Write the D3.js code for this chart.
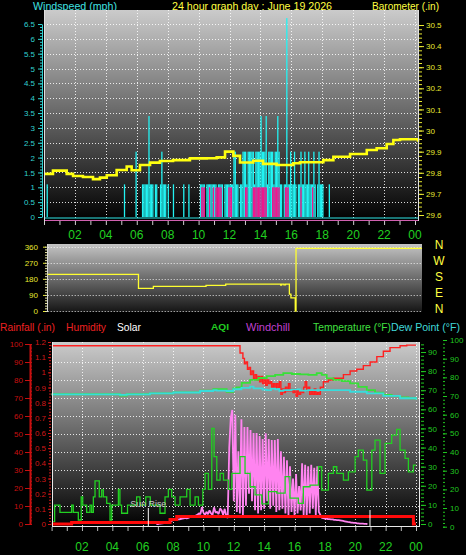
<!DOCTYPE html>
<html><head><meta charset="utf-8">
<script src="https://cdn.jsdelivr.net/npm/d3@7"></script>
<style>html,body{margin:0;padding:0;background:#000;overflow:hidden}</style>
</head><body>
<script>
// ---------------- DATA ----------------
const hourLabels = ["02","04","06","08","10","12","14","16","18","20","22","00"];
const windTicks = [0,0.5,1,1.5,2,2.5,3,3.5,4,4.5,5,5.5,6,6.5];
const baroTicks = [29.6,29.7,29.8,29.9,30.0,30.1,30.2,30.3,30.4,30.5];
const dirTicks = [0,90,180,270,360];
const compass = ["N","E","S","W","N"];
const rainTicks = [0,0.1,0.2,0.3,0.4,0.5,0.6,0.7,0.8,0.9,1,1.1,1.2];
const humTicks = [0,10,20,30,40,50,60,70,80,90,100];
const tempTicks = [0,10,20,30,40,50,60,70,80,90];
const aqiTicks = [0,10,20,30,40,50,60,70,80,90,100];

const baroHours = [0,0.17,0.58,1.04,1.47,1.88,2.52,3.17,3.62,4.06,4.70,5.35,5.67,6.21,6.86,7.50,8.35,9.44,10.53,11.17,11.71,12.25,12.68,13.11,13.54,13.97,14.17,14.62,15.05,15.91,16.13,16.56,17.85,18.07,18.72,19.8,20.88,21.52,22.17,22.6,23.03,23.89,24.2];
const baroValues = [29.795,29.795,29.81,29.81,29.795,29.785,29.78,29.77,29.777,29.788,29.813,29.83,29.812,29.837,29.848,29.856,29.86,29.868,29.869,29.873,29.9,29.88,29.849,29.849,29.857,29.857,29.842,29.842,29.837,29.837,29.845,29.85,29.85,29.86,29.876,29.889,29.908,29.916,29.936,29.955,29.959,29.959,29.947];

// wind speed (mph), 5-minute samples, one row per hour
const windByHour = [
 [0,0,1.1,0,0,0,0,0,0,0,0,0],
 [0,0,0,0,0,0,0,0,0,0,0,0],
 [0,0,0,0,0,0,0,0,0,0,0,0],
 [0,0,0,0,0,0,0,0,0,0,0,0],
 [0,0,0,0,0,0,0,0,0,0,0,0],
 [0,0,1.1,0,0,0,0,0,0,0,0,2.2],
 [0,0,0,0,1.1,1.1,1.1,1.1,1.1,3.4,1.1,1.1],
 [1.1,0,1.1,1.1,0,0,1.1,2.2,1.1,1.1,1.1,0],
 [1.1,0,0,0,1.1,0,0,0,0,0,0,0],
 [1.1,0,0,0,1.1,0,0,0,0,0,0,0],
 [0,1.1,1.1,1.1,1.1,0,1.1,1.1,1.1,1.1,1.1,1.1],
 [1.1,1.1,0,1.1,1.1,1.1,1.1,0,1.1,1.1,1.1,1.1],
 [1.1,1.1,1.1,2.2,2.2,1.1,1.1,0,1.1,1.1,2.2,2.2],
 [2.2,1.1,2.2,2.2,2.2,2.2,2.2,1.1,2.2,2.2,2.2,2.2],
 [3.4,2.2,2.2,2.2,3.4,1.1,2.2,2.2,2.2,2.2,1.1,2.2],
 [2.2,3.4,2.2,1.1,1.1,0,1.1,1.1,6.7,1.1,1.1,2.2],
 [1.1,1.1,2.2,1.1,0,1.1,1.1,2.2,1.1,1.1,2.2,1.1],
 [1.1,2.2,1.1,1.1,1.1,2.2,1.1,0,1.1,2.2,1.1,1.1],
 [1.1,0,0,0,0,1.1,0,0,0,0,0,0],
 [0,0,0,0,0,0,0,0,0,0,0,0],
 [0,0,0,0,0,0,0,0,0,0,0,0],
 [0,0,0,0,0,0,0,0,0,0,0,0],
 [0,0,0,0,0,0,0,0,0,0,0,0],
 [0,0,0,0,0,0,0,0,0,0,0,0]
];
// average wind (mph), 5-minute samples, hours 10..17
const avgStartHour = 10;
const avgByHour = [
 [0,0,1,1,1,0,0,0,1,0,0,1],
 [0,1,1,1,1,1,0,0,0,0,0,1],
 [1,1,0,0,0,0,0,0,0,0,0,0],
 [1,1,0,0,0,0,1,1,1,1,1,1],
 [1,1,1,1,1,0,0,0,0,1,1,1],
 [1,1,1,0,0,0,0,1,1,1,0,0],
 [0,0,0,0,0,0,0,1,0,0,0,0],
 [0,0,0,0,1,0,0,0,0,0,0,0]
];

const dirHours = [0,5.86,6.82,10.22,11.49,15.04,15.1,15.25,15.35,15.6,15.7,15.98,16.03,24.15];
const dirValues = [205,127,138,144,150,145,150,146,150,95,74,0,351,351];

const rainHours = [0,1.32,7.8,8.24,23.83,24];
const rainValues = [0,0.01,0.03,0.05,0,0];

const humHours = [0,12.08,12.41,12.6,12.7,12.8,12.9,13.0,13.1,13.2,13.3,13.4,13.5,13.6,13.7,13.8,13.9,14.0,14.1,14.2,14.3,14.4,14.5,14.6,14.7,14.8,14.9,15.0,15.1,15.2,15.3,15.4,15.5,15.6,15.7,15.8,15.9,16.0,16.1,16.2,16.3,16.4,16.5,16.6,16.7,16.8,16.9,17.0,17.1,17.2,17.3,17.4,17.5,17.6,17.7,17.9,18.01,18.23,18.56,19.22,19.66,20.1,20.53,20.98,21.42,21.85,22.29,22.95,23.39,24];
const humValues = [99,99,95,92,89,90,86,87,83,85,81,83,80,82,79,82,78,80,77,80,78,79,76,78,75,78,76,79,72,75,73,76,74,78,74,75,73,75,71,74,72,74,73,76,79,74,76,72,74,72,75,72,73,72,76,79,79,80,81,83,85,86,88,90,93,96,98,99,99.4,99.4];

const tempHours = [0,4.29,4.5,4.95,6.48,8.02,9.78,10.65,11.1,11.53,11.97,12.19,12.52,13.07,13.62,14.17,14.72,15.26,15.82,16.36,16.91,17.46,17.79,18.12,18.56,19.11,19.66,20.2,20.76,21.3,21.85,22.4,22.95,23.5,24];
const tempValues = [67.9,67.9,67.2,67.9,68.4,68.9,69.8,70.5,70.5,69.2,71,71.5,73.8,75.4,76.4,77.4,78,78.9,78.5,78.3,78,78.9,78,76.2,75.4,74.8,73.6,71.8,70.1,68.7,67.5,67,66.3,65.8,65.2];

const dewHours = [0,4.29,4.5,4.95,6.48,8.02,9.78,10.65,10.87,11.53,11.97,12.5,13.07,13.3,13.62,13.9,14.17,14.45,14.72,15.0,15.26,15.8,16.36,16.9,17.46,18.56,19.66,20.76,21.85,22.95,24];
const dewValues = [67.8,67.8,67.6,67.8,68.3,68.8,69.6,70.0,69.8,69.6,70.5,71.2,71.9,71.0,71.0,70.3,70.1,70.8,70.5,69.7,70.1,70.4,69.8,70.1,70.1,70.1,69.2,68.4,67,65.8,65.2];

const aqiHours = [0.11,0.2,0.55,1.32,1.43,1.76,1.95,2.05,2.31,2.53,2.64,2.75,2.86,3.14,3.3,3.41,3.63,3.85,3.96,4.4,4.5,4.61,5.0,5.6,5.82,6.2,6.5,7.14,7.47,7.69,7.91,8.13,8.46,8.9,9.12,9.45,9.67,9.96,10.11,10.33,10.55,10.7,10.88,11.1,11.32,11.65,11.87,12.41,12.74,13.07,13.4,13.84,14.28,14.83,15.38,15.7,16.25,16.58,17.02,17.57,17.79,18.23,18.56,18.78,19.22,19.55,19.99,20.2,20.53,20.76,21.09,21.3,21.63,21.96,22.4,22.73,22.95,23.28,23.5,23.83,24];
const aqiValues = [2.7,11.6,7.7,11.6,7.7,3.6,16,11.6,7.7,11.6,7.7,16,24.5,16,19.7,16,12.5,3.6,11.6,20,11.6,7.2,11.6,16,11.6,16,11.6,7.2,16,20,16,11.6,16,20,11.6,16,11.6,20,28.6,20,52.7,37.5,25,28.6,25,20,28.6,37.5,28.6,21.4,17,12.2,18.8,18,26.8,15.3,12.5,21.4,22.3,32.1,19.6,28.6,32.1,28.6,25,29.4,37.5,41,35.7,19.6,41,46.4,28.6,44.6,49.1,52.1,41,36.6,29.4,33,33];

// solar (W/m2), 6-minute samples from 06:54
const solarStartHour = 6.9, solarStepHour = 0.1;
const solarValues = [0,0,2,3,5,6,8,9,12,15,20,26,26,28,30,31,33,35,37,40,37,40,45,48,46,50,55,60,70,65,110,75,59,80,65,90,70,60,110,75,80,65,103,90,60,100,55,40,500,700,752,150,720,80,480,70,690,60,640,120,640,200,620,150,600,90,600,70,580,90,560,100,598,150,560,100,554,120,554,80,560,90,480,100,444,70,420,60,380,80,300,60,330,70,250,90,400,60,390,50,380,70,390,100,370,60,380,80,60,40,38,36,35,33,32,30,30,28,27,26,26,24,22,20,18,16,14,12,10,9,8,7,5,4,3,2,2,1,1,0];
const sunriseHour = 6.37, sunsetHour = 20.97;

// ---------------- DRAW ----------------
const FONT = "'Liberation Sans', Arial, Helvetica, sans-serif";
const svg = d3.select("body").append("svg").attr("width",466).attr("height",555).style("display","block").style("background","#000");
const defs = svg.append("defs");
function grad(id,c0,c1){const g=defs.append("linearGradient").attr("id",id).attr("x1",0).attr("y1",0).attr("x2",0).attr("y2",1);
 g.append("stop").attr("offset","0%").attr("stop-color",c0);g.append("stop").attr("offset","100%").attr("stop-color",c1);}
grad("gTop","#cbcbcb","#000000");
grad("gMid","#c4c4c4","#151515");
grad("gBot","#cbcbcb","#000000");

function txt(x,y,s,fill,size,anchor,weight,len){const t=svg.append("text").attr("x",x).attr("y",y).text(s).attr("fill",fill)
 .attr("font-size",size).attr("font-family",FONT).attr("text-anchor",anchor||"start").attr("font-weight",weight||"normal");
 if(len) t.attr("textLength",len).attr("lengthAdjust","spacingAndGlyphs"); return t;}
function styleAxis(g,color,fs,keepDomain){ if(!keepDomain) g.select(".domain").remove(); else g.select(".domain").attr("stroke",color);
 g.selectAll("line").attr("stroke",color); g.selectAll("text").attr("fill",color).attr("font-size",fs).attr("font-family",FONT);}
function hgrid(scale,vals,x0,x1){vals.forEach(v=>{const y=Math.round(scale(v))+0.5;
 svg.append("line").attr("x1",x0).attr("x2",x1).attr("y1",y).attr("y2",y).attr("stroke","#fff").attr("stroke-dasharray","1,2").attr("stroke-opacity",0.85);});}
function vgrid(scale,vals,y0,y1){vals.forEach(v=>{const x=Math.round(scale(v))+0.5;
 svg.append("line").attr("x1",x).attr("x2",x).attr("y1",y0).attr("y2",y1).attr("stroke","#fff").attr("stroke-dasharray","1,2").attr("stroke-opacity",0.85);});}
const evenHours = d3.range(2,25,2);
const allHours = d3.range(0,25,1);

// header
txt(33,9.5,"Windspeed (mph)","#40e0e0",11,"start","normal",84);
txt(172,9.5,"24 hour graph day : June 19 2026","#ffff40",11,"start","normal",160);
txt(372,9.5,"Barometer (.in)","#ffff40",11,"start","normal",67);

// ---- TOP PANEL ----
const xTop = d3.scaleLinear().domain([0,24]).range([44,415]);
const yWind = d3.scaleLinear().domain([0,6.5]).range([217,24]);
const yBaro = d3.scaleLinear().domain([29.6,30.5]).range([215,25]);
svg.append("rect").attr("x",44).attr("y",10).attr("width",375).attr("height",211).attr("fill","url(#gTop)");
hgrid(yWind,windTicks.slice(1),44,419);
vgrid(xTop,evenHours,10,221);

const wind = windByHour.flat();
svg.append("g").selectAll("rect").data(wind.map((v,i)=>({v,i})).filter(d=>d.v>0)).join("rect")
 .attr("x",d=>xTop(d.i/12)).attr("width",d=>xTop((d.i+1)/12)-xTop(d.i/12))
 .attr("y",d=>yWind(d.v)).attr("height",d=>yWind(0)-yWind(d.v)).attr("fill","#22f2f2");
const avg = avgByHour.flat();
svg.append("g").selectAll("rect").data(avg.map((v,i)=>({v,i:i+avgStartHour*12})).filter(d=>d.v>0)).join("rect")
 .attr("x",d=>xTop(d.i/12)).attr("width",d=>xTop((d.i+1)/12)-xTop(d.i/12))
 .attr("y",d=>yWind(d.v)).attr("height",d=>yWind(0)-yWind(d.v)).attr("fill","#f0168e");
svg.append("line").attr("x1",44).attr("x2",419).attr("y1",yWind(0)+1).attr("y2",yWind(0)+1).attr("stroke","#30e8e8").attr("stroke-width",1);
svg.append("line").attr("x1",44).attr("x2",419).attr("y1",220.5).attr("y2",220.5).attr("stroke","#d060b0").attr("stroke-width",1);

svg.append("path").datum(baroHours.map((h,i)=>[h,baroValues[i]]))
 .attr("d",d3.line().x(d=>xTop(d[0])).y(d=>yBaro(d[1])).curve(d3.curveStepAfter))
 .attr("fill","none").attr("stroke","#ffff10").attr("stroke-width",2.6);

// frame
svg.append("line").attr("x1",44.5).attr("x2",44.5).attr("y1",10).attr("y2",221).attr("stroke","#e0e0e0");
svg.append("line").attr("x1",418.5).attr("x2",418.5).attr("y1",10).attr("y2",221).attr("stroke","#e0e0e0");

// axes
let g = svg.append("g").attr("transform","translate(42,0)").call(d3.axisLeft(yWind).tickValues(windTicks).tickSize(4).tickSizeOuter(0).tickPadding(3).tickFormat(d=>String(d)));
styleAxis(g,"#30d0d0",8,true);
g = svg.append("g").attr("transform","translate(42,0)").call(d3.axisLeft(yWind).tickValues(d3.range(0,66,1).map(d=>d/10)).tickSize(2).tickFormat(""));
styleAxis(g,"#30d0d0",8);
g = svg.append("g").attr("transform","translate(419,0)").call(d3.axisRight(yBaro).tickValues(baroTicks).tickSize(5).tickPadding(2).tickFormat(d=>String(+d.toFixed(1))));
styleAxis(g,"#e8e830",8);
g = svg.append("g").attr("transform","translate(419,0)").call(d3.axisRight(yBaro).tickValues(d3.range(0,46,1).map(d=>29.6+d*0.02)).tickSize(3).tickFormat(""));
styleAxis(g,"#e8e830",8);
g = svg.append("g").attr("transform","translate(0,221)").call(d3.axisBottom(xTop).tickValues(allHours).tickSize(4).tickFormat(""));
styleAxis(g,"#cccccc",8);
hourLabels.forEach((s,i)=>txt(xTop(evenHours[i]),239,s,"#20d020",12,"middle"));

// ---- MIDDLE PANEL ----
const xMid = d3.scaleLinear().domain([0,24]).range([47.7,419.5]);
const yDir = d3.scaleLinear().domain([0,360]).range([311,246.7]);
svg.append("rect").attr("x",47.7).attr("y",244).attr("width",374.3).attr("height",68).attr("fill","url(#gMid)");
hgrid(yDir,dirTicks,47.7,422);
svg.append("line").attr("x1",47.5).attr("x2",47.5).attr("y1",244).attr("y2",312).attr("stroke","#d8d8d8");
svg.append("path").datum(dirHours.map((h,i)=>[h,dirValues[i]]))
 .attr("d",d3.line().x(d=>xMid(d[0])).y(d=>yDir(d[1])).curve(d3.curveStepAfter))
 .attr("fill","none").attr("stroke","#ffff30").attr("stroke-width",1.3);
g = svg.append("g").attr("transform","translate(46,0)").call(d3.axisLeft(yDir).tickValues(dirTicks).tickSize(3).tickPadding(5).tickFormat(d=>String(d)));
styleAxis(g,"#e8e830",8);
g = svg.append("g").attr("transform","translate(47,0)").call(d3.axisLeft(yDir).tickValues(d3.range(0,361,15)).tickSize(2).tickFormat(""));
styleAxis(g,"#e8e8a0",8);
dirTicks.forEach((v,i)=>txt(439,yDir(v)+2,compass[i],"#ffff40",12,"middle"));

// ---- LEGEND ----
txt(0,331,"Rainfall (.in)","#ee2020",11,"start","normal",55);
txt(66,331,"Humidity","#ee2020",11,"start","normal",40);
txt(117,331,"Solar","#ffffff",11,"start","normal",24);
txt(211,330,"AQI","#20cc20",9,"start","bold",18);
txt(246,331,"Windchill","#c040d0",11,"start","normal",44);
txt(313,331,"Temperature (°F)","#40e040",11,"start","normal",78);
txt(391,331,"Dew Point (°F)","#40d8d8",11,"start","normal",69);

// ---- BOTTOM PANEL ----
const xBot = d3.scaleLinear().domain([0,24]).range([51.6,416]);
const yRain = d3.scaleLinear().domain([0,1.2]).range([524,342]);
const yHum = d3.scaleLinear().domain([0,100]).range([524,344]);
const yTemp = d3.scaleLinear().domain([0,90]).range([524,352]);
const yAqi = d3.scaleLinear().domain([0,100]).range([526.7,340]);
const ySolar = d3.scaleLinear().domain([0,1200]).range([524,342]);
svg.append("rect").attr("x",52).attr("y",342).attr("width",368).attr("height",185).attr("fill","url(#gBot)");
hgrid(yHum,d3.range(10,100,10),52,420);
vgrid(xBot,evenHours,342,527);

// solar
svg.append("path").datum(solarValues.map((v,i)=>[solarStartHour+i*solarStepHour,v]))
 .attr("d",d3.line().x(d=>xBot(d[0])).y(d=>ySolar(d[1])))
 .attr("fill","none").attr("stroke","#ff84f0").attr("stroke-width",1.8).attr("stroke-linejoin","bevel");
// AQI
svg.append("path").datum(aqiHours.map((h,i)=>[h,aqiValues[i]]))
 .attr("d",d3.line().x(d=>xBot(d[0])).y(d=>yAqi(d[1])).curve(d3.curveStepAfter))
 .attr("fill","none").attr("stroke","#22d022").attr("stroke-width",1.3);
// rain
svg.append("path").datum(rainHours.map((h,i)=>[h,rainValues[i]]))
 .attr("d",d3.line().x(d=>xBot(d[0])).y(d=>yRain(d[1])).curve(d3.curveStepAfter))
 .attr("fill","none").attr("stroke","#ff0a0a").attr("stroke-width",3);
// humidity
svg.append("path").datum(humHours.map((h,i)=>[h,humValues[i]]))
 .attr("d",d3.line().x(d=>xBot(d[0])).y(d=>yHum(d[1])).curve(d3.curveStepAfter))
 .attr("fill","none").attr("stroke","#ff2020").attr("stroke-width",1.4);
// temperature
svg.append("path").datum(tempHours.map((h,i)=>[h,tempValues[i]]))
 .attr("d",d3.line().x(d=>xBot(d[0])).y(d=>yTemp(d[1])).curve(d3.curveStepAfter))
 .attr("fill","none").attr("stroke","#38e038").attr("stroke-width",1.8);
// dew point
svg.append("path").datum(dewHours.map((h,i)=>[h,dewValues[i]]))
 .attr("d",d3.line().x(d=>xBot(d[0])).y(d=>yTemp(d[1])).curve(d3.curveStepAfter))
 .attr("fill","none").attr("stroke","#38dcdc").attr("stroke-width",1.8);
// sunrise / sunset
svg.append("line").attr("x1",xBot(sunriseHour)).attr("x2",xBot(sunriseHour)).attr("y1",508).attr("y2",527).attr("stroke","#fff");
svg.append("line").attr("x1",xBot(sunsetHour)).attr("x2",xBot(sunsetHour)).attr("y1",510).attr("y2",527).attr("stroke","#fff");
txt(xBot(sunriseHour)-18,507,"Sun Rise","#c8c8c8",9,"start","normal",36);

// frame
svg.append("line").attr("x1",52.5).attr("x2",52.5).attr("y1",342).attr("y2",527).attr("stroke","#e8e8e8");
svg.append("line").attr("x1",419.5).attr("x2",419.5).attr("y1",342).attr("y2",527).attr("stroke","#e8e8e8");
svg.append("line").attr("x1",52).attr("x2",420).attr("y1",526.5).attr("y2",526.5).attr("stroke","#e8e8e8");

// left axes
g = svg.append("g").attr("transform","translate(51,0)").call(d3.axisLeft(yRain).tickValues(rainTicks).tickSize(3).tickPadding(2).tickFormat(d=>String(d)));
styleAxis(g,"#d01818",8);
g = svg.append("g").attr("transform","translate(51,0)").call(d3.axisLeft(yRain).tickValues(d3.range(0,61,1).map(d=>d*0.02)).tickSize(2).tickFormat(""));
styleAxis(g,"#d01818",8);
g = svg.append("g").attr("transform","translate(30,0)").call(d3.axisLeft(yHum).tickValues(humTicks).tickSize(5).tickSizeOuter(0).tickPadding(2).tickFormat(d=>String(d)));
styleAxis(g,"#c81010",8,true); g.select(".domain").attr("stroke-width",2);
g = svg.append("g").attr("transform","translate(30,0)").call(d3.axisRight(yHum).tickValues(d3.range(0,51,1).map(d=>d*2)).tickSize(2).tickFormat(""));
styleAxis(g,"#c81010",8);
// right axes
g = svg.append("g").attr("transform","translate(421,0)").call(d3.axisRight(yTemp).tickValues(tempTicks).tickSize(5).tickPadding(2).tickFormat(d=>String(d)));
styleAxis(g,"#20c820",8);
g = svg.append("g").attr("transform","translate(421,0)").call(d3.axisRight(yTemp).tickValues(d3.range(0,48,1).map(d=>d*2)).tickSize(3).tickFormat(""));
styleAxis(g,"#20c820",8);
g = svg.append("g").attr("transform","translate(443,0)").call(d3.axisRight(yAqi).tickValues(aqiTicks).tickSize(4).tickPadding(3).tickFormat(d=>String(d)));
styleAxis(g,"#20c820",8);
g = svg.append("g").attr("transform","translate(443,0)").call(d3.axisRight(yAqi).tickValues(d3.range(0,51,1).map(d=>d*2)).tickSize(2).tickFormat(""));
styleAxis(g,"#20c820",8);
g = svg.append("g").attr("transform","translate(0,527)").call(d3.axisBottom(xBot).tickValues(allHours).tickSize(4).tickFormat(""));
styleAxis(g,"#bbbbbb",8);
hourLabels.forEach((s,i)=>txt(xBot(evenHours[i]),551,s,"#20d020",12,"middle"));
</script>
</body></html>
